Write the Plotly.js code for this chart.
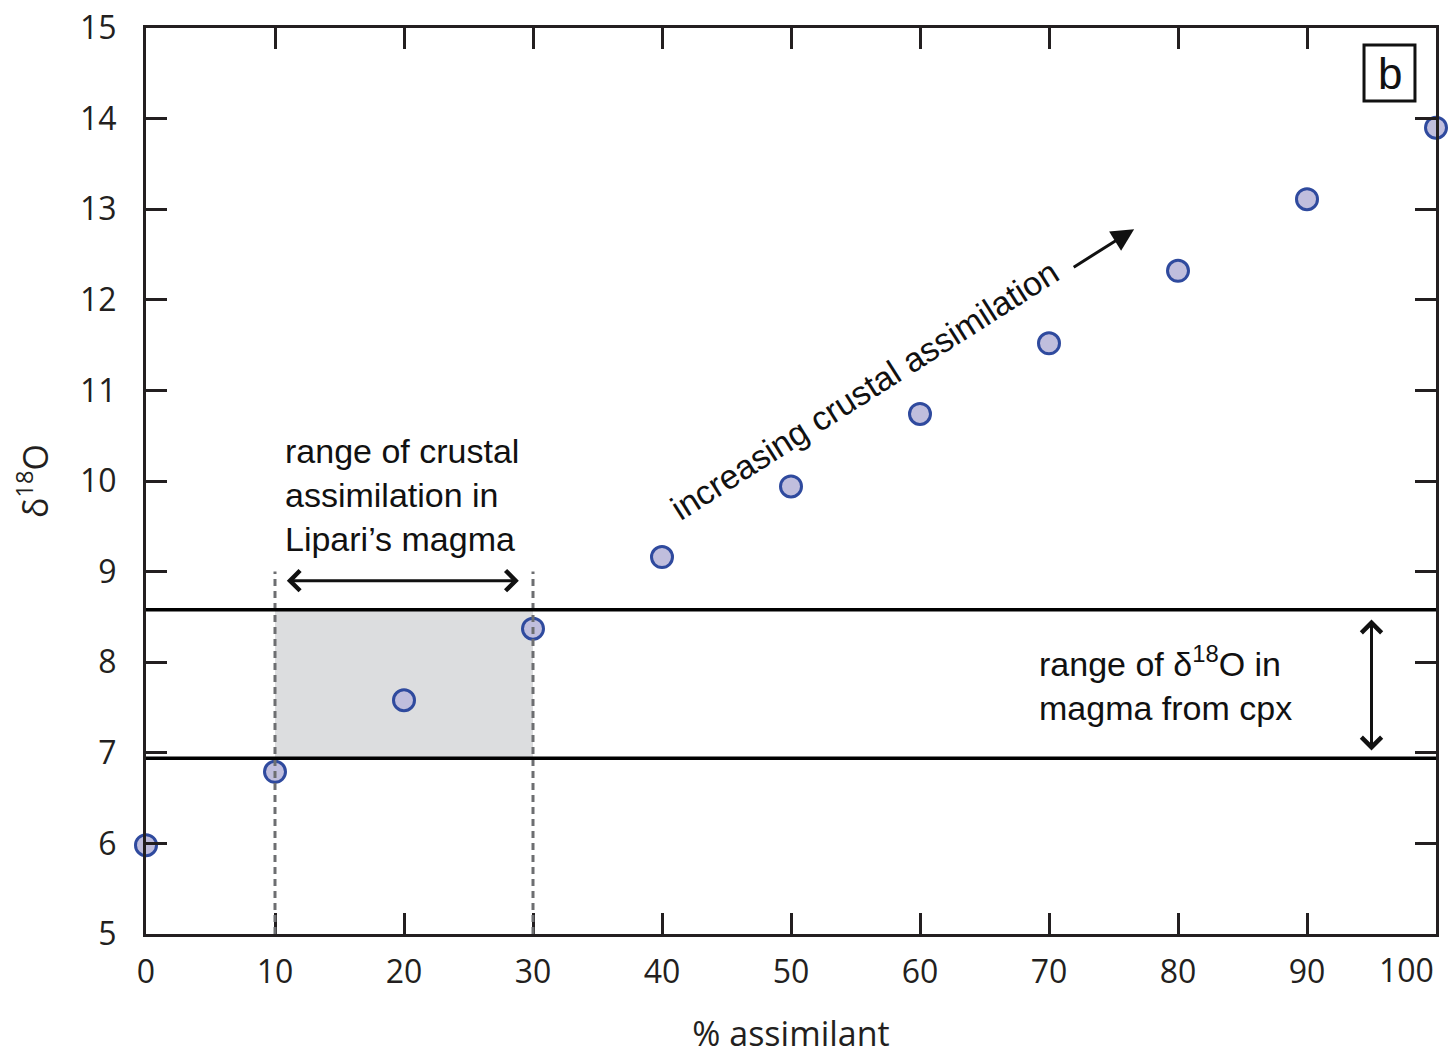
<!DOCTYPE html>
<html>
<head>
<meta charset="utf-8">
<script src="https://cdn.plot.ly/plotly-3.0.1.min.js"></script>
<style>
  html, body { margin: 0; padding: 0; background: #fff; }
  #chart { width: 1453px; height: 1056px; }
</style>
</head>
<body>
<div id="chart"></div>
<script>
// Model curve: δ18O of the magma vs. percentage of assimilated crust
const assimilant = [0, 10, 20, 30, 40, 50, 60, 70, 80, 90, 100];
const d18O = [5.98, 6.79, 7.58, 8.37, 9.16, 9.94, 10.74, 11.52, 12.32, 13.11, 13.90];

// Range of δ18O in magma computed from clinopyroxene
const cpxRange = [6.94, 8.58];
// Range of crustal assimilation in Lipari's magma (% assimilant)
const liparRange = [10, 30];

const xTicks = [0, 10, 20, 30, 40, 50, 60, 70, 80, 90, 100];
const xTickText = ['0', '10', '20', '30', '40', '50', '60', '70', '80', '90', '100'];
const yTicks = [5, 6, 7, 8, 9, 10, 11, 12, 13, 14, 15];
const yTickText = ['5', '6', '7', '8', '9', '10', '11', '12', '13', '14', '15'];

const axisColor = '#231f20';
const tickFont = { family: 'Open Sans, sans-serif', size: 32, color: axisColor };
const noteFont = { family: 'Liberation Sans, Arial, sans-serif', size: 34, color: '#111' };

const trace = {
  x: assimilant,
  y: d18O,
  type: 'scatter',
  mode: 'markers',
  marker: { size: 21, color: '#c0bedd', line: { color: '#2f4a9e', width: 3 } },
  cliponaxis: false,
  hoverinfo: 'x+y'
};

const dashLine = { color: '#6d6e71', width: 3, dash: '7px,5px' };

const shapes = [
  // shaded overlap of the two ranges
  { type: 'rect', xref: 'x', yref: 'y', layer: 'below',
    x0: liparRange[0], x1: liparRange[1], y0: cpxRange[0], y1: cpxRange[1],
    fillcolor: '#dcdddf', line: { width: 0 } },
  // dashed bounds of the assimilation range
  { type: 'line', xref: 'x', yref: 'y', x0: liparRange[0], x1: liparRange[0], y0: 5, y1: 9.0, line: dashLine },
  { type: 'line', xref: 'x', yref: 'y', x0: liparRange[1], x1: liparRange[1], y0: 5, y1: 9.0, line: dashLine },
  // bounds of the cpx-derived δ18O range
  { type: 'line', xref: 'paper', yref: 'y', x0: 0, x1: 1, y0: cpxRange[0], y1: cpxRange[0],
    line: { color: '#000', width: 3.5 } },
  { type: 'line', xref: 'paper', yref: 'y', x0: 0, x1: 1, y0: cpxRange[1], y1: cpxRange[1],
    line: { color: '#000', width: 3.5 } },
  // frame of the panel label
  { type: 'rect', xref: 'paper', yref: 'paper', x0: 0.9442, x1: 0.9837, y0: 0.9194, y1: 0.9812,
    fillcolor: '#fff', line: { color: '#111', width: 3 } }
];

const lastTick = xTicks.length - 1;

const annotations = [
  { xref: 'x', yref: 'y', x: 10.6, y: 9.85, xanchor: 'left', yanchor: 'middle', align: 'left',
    text: 'range of crustal<br>assimilation in<br>Lipari’s magma', showarrow: false, font: noteFont },
  { xref: 'x', yref: 'y', x: 69.1, y: 7.76, xanchor: 'left', yanchor: 'middle', align: 'left',
    text: 'range of δ<sup>18</sup>O in<br>magma from cpx', showarrow: false, font: noteFont },
  { xref: 'x', yref: 'y', x: 55.7, y: 11.0, xanchor: 'center', yanchor: 'middle',
    text: 'increasing crustal assimilation',
    textangle: -32.5, showarrow: false, font: noteFont },
  // trend arrow
  { xref: 'x', yref: 'y', axref: 'x', ayref: 'y', x: 76.6, y: 12.78, ax: 71.8, ay: 12.35,
    text: '', showarrow: true, arrowhead: 2, arrowsize: 1.5, arrowwidth: 3, arrowcolor: '#111' },
  // horizontal double arrow over the assimilation range
  { xref: 'x', yref: 'y', axref: 'x', ayref: 'y', x: 28.9, y: 8.9, ax: 10.8, ay: 8.9,
    text: '', showarrow: true, arrowside: 'end+start', arrowhead: 4, arrowsize: 1.3, arrowwidth: 3, arrowcolor: '#111' },
  // vertical double arrow over the cpx range
  { xref: 'x', yref: 'y', axref: 'x', ayref: 'y', x: 95.0, y: 8.47, ax: 95.0, ay: 7.01,
    text: '', showarrow: true, arrowside: 'end+start', arrowhead: 4, arrowsize: 1.3, arrowwidth: 3, arrowcolor: '#111' },
  // panel label
  { xref: 'paper', yref: 'paper', x: 0.9640, y: 0.9503, xanchor: 'center', yanchor: 'middle',
    text: 'b', showarrow: false,
    font: { family: 'Liberation Sans, Arial, sans-serif', size: 44, color: '#111' } },
  // last x tick label, pulled inside the right edge of the page
  { xref: 'x', yref: 'paper', x: xTicks[lastTick], y: 0, xanchor: 'right', yanchor: 'top',
    yshift: -12, text: xTickText[lastTick], showarrow: false, font: tickFont }
];

const axisCommon = {
  showline: true, linecolor: axisColor, linewidth: 3, mirror: 'ticks',
  ticks: 'inside', ticklen: 21, tickwidth: 3, tickcolor: axisColor,
  showgrid: false, zeroline: false, tickfont: tickFont
};

const layout = {
  width: 1453, height: 1056,
  margin: { l: 146, r: 17, t: 28, b: 122 },
  paper_bgcolor: '#fff', plot_bgcolor: '#fff',
  showlegend: false,
  xaxis: Object.assign({}, axisCommon, {
    range: [0, 100], tickvals: xTicks,
    ticktext: xTickText.map((t, i) => (i === lastTick ? '' : t)),
    ticklabelstandoff: 8,
    title: { text: '% assimilant', font: { family: 'Open Sans, sans-serif', size: 34, color: axisColor }, standoff: 36 }
  }),
  yaxis: Object.assign({}, axisCommon, {
    range: [5, 15], tickvals: yTicks, ticktext: yTickText, ticklabelstandoff: 20,
    title: { text: 'δ<sup>18</sup>O', font: { family: 'Open Sans, sans-serif', size: 34, color: axisColor }, standoff: 22 }
  }),
  shapes: shapes,
  annotations: annotations
};

Plotly.newPlot('chart', [trace], layout, { displayModeBar: false, staticPlot: true });
</script>
</body>
</html>
